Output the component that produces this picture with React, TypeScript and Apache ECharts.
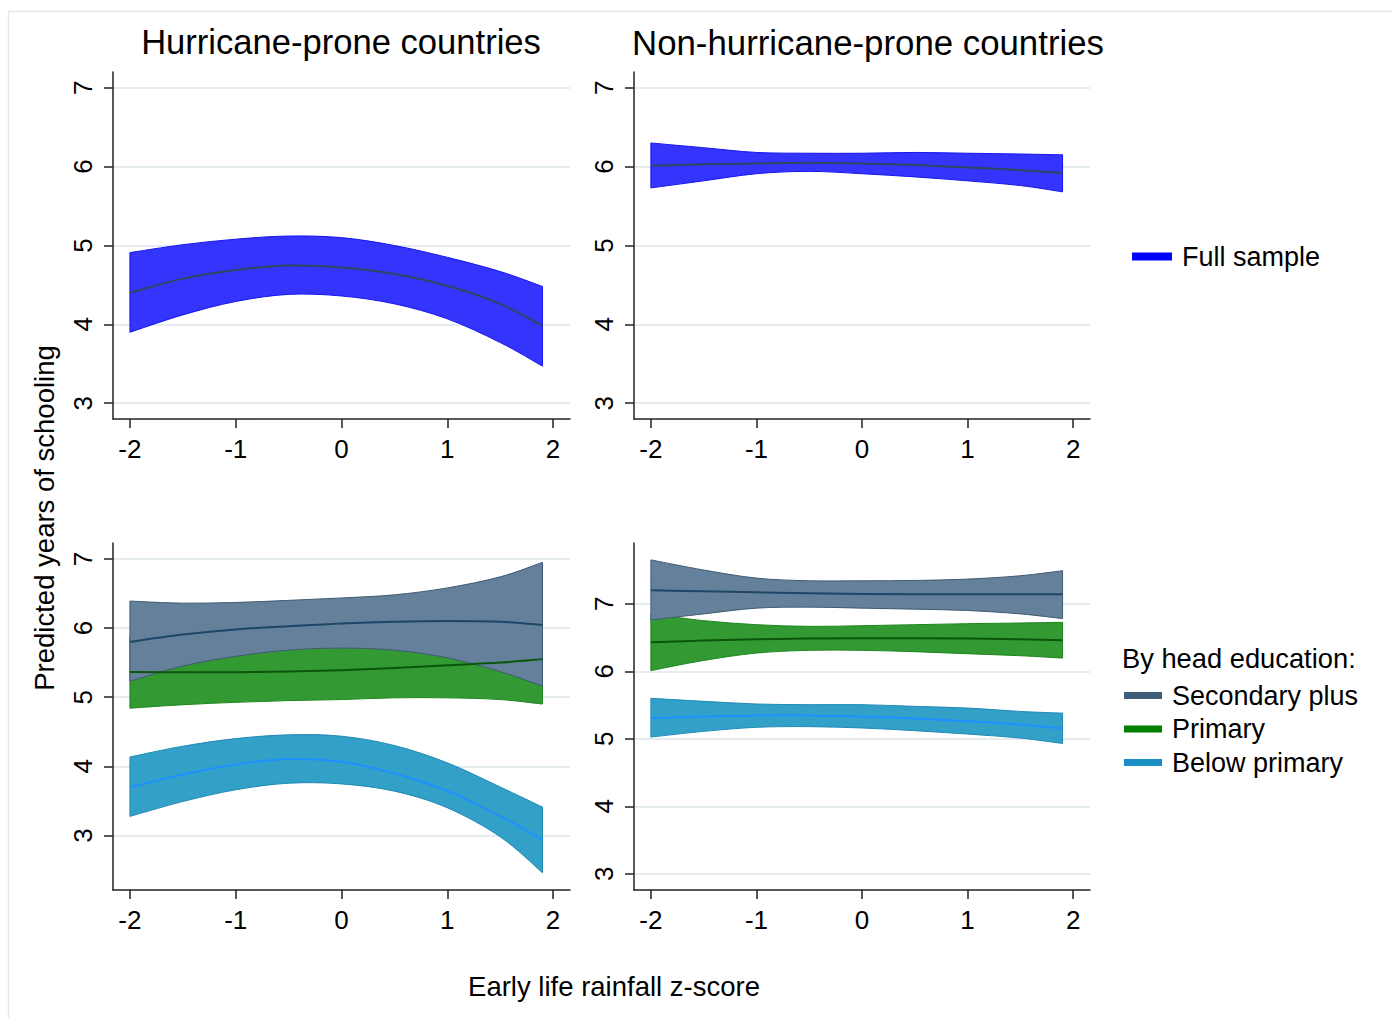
import { useEffect, useRef } from "react";
import * as echarts from "echarts";

const FONT = "'Liberation Sans', Arial, Helvetica, sans-serif";

// ---------------- DATA ----------------
const xs = [-2, -1.5, -1, -0.5, 0, 0.5, 1, 1.5, 1.9];
const xTicks = [-2, -1, 0, 1, 2];
const yTicks = [3, 4, 5, 6, 7];

const groupNames = ["Full sample", "Secondary plus", "Primary", "Below primary"];
const panelTitles = ["Hurricane-prone countries", "Non-hurricane-prone countries"];
const xAxisTitle = "Early life rainfall z-score";
const yAxisTitle = "Predicted years of schooling";
const legendHeading = "By head education:";

// Hurricane-prone, full sample
const hurFullLo = [3.9, 4.12, 4.29, 4.38, 4.36, 4.26, 4.07, 3.77, 3.47];
const hurFullFit = [4.4, 4.58, 4.69, 4.745, 4.72, 4.64, 4.49, 4.26, 3.98];
const hurFullHi = [4.91, 5.01, 5.08, 5.12, 5.1, 5.0, 4.85, 4.67, 4.48];

// Non-hurricane-prone, full sample
const nonFullLo = [5.73, 5.82, 5.91, 5.94, 5.91, 5.87, 5.82, 5.76, 5.68];
const nonFullFit = [6.01, 6.03, 6.04, 6.05, 6.04, 6.02, 5.99, 5.955, 5.92];
const nonFullHi = [6.3, 6.24, 6.18, 6.17, 6.17, 6.18, 6.17, 6.16, 6.15];

// Hurricane-prone, by head education
const hurSecLo = [5.23, 5.45, 5.59, 5.68, 5.71, 5.68, 5.57, 5.37, 5.16];
const hurSecFit = [5.8, 5.905, 5.98, 6.025, 6.065, 6.09, 6.1, 6.09, 6.045];
const hurSecHi = [6.39, 6.36, 6.37, 6.4, 6.435, 6.48, 6.58, 6.74, 6.95];

const hurPriLo = [4.84, 4.89, 4.925, 4.95, 4.965, 4.99, 4.99, 4.965, 4.9];
const hurPriFit = [5.365, 5.36, 5.36, 5.37, 5.39, 5.42, 5.46, 5.5, 5.55];
const hurPriHi = [5.89, 5.83, 5.8, 5.79, 5.82, 5.85, 5.93, 6.04, 6.2];

const hurBelLo = [3.275, 3.49, 3.66, 3.755, 3.745, 3.64, 3.4, 2.98, 2.46];
const hurBelFit = [3.695, 3.88, 4.025, 4.105, 4.065, 3.895, 3.645, 3.28, 2.935];
const hurBelHi = [4.135, 4.29, 4.4, 4.455, 4.435, 4.3, 4.05, 3.7, 3.41];

// Non-hurricane-prone, by head education
const nonSecLo = [6.76, 6.85, 6.935, 6.95, 6.935, 6.92, 6.9, 6.85, 6.78];
const nonSecFit = [7.2, 7.185, 7.17, 7.155, 7.145, 7.14, 7.14, 7.14, 7.14];
const nonSecHi = [7.65, 7.5, 7.38, 7.34, 7.34, 7.345, 7.365, 7.415, 7.49];

const nonPriLo = [6.01, 6.16, 6.27, 6.31, 6.31, 6.29, 6.26, 6.23, 6.195];
const nonPriFit = [6.43, 6.455, 6.475, 6.485, 6.49, 6.49, 6.485, 6.475, 6.46];
const nonPriHi = [6.85, 6.75, 6.69, 6.665, 6.675, 6.69, 6.705, 6.715, 6.725];

const nonBelLo = [5.025, 5.11, 5.17, 5.18, 5.16, 5.12, 5.07, 5.01, 4.93];
const nonBelFit = [5.305, 5.33, 5.345, 5.345, 5.33, 5.3, 5.26, 5.21, 5.15];
const nonBelHi = [5.6, 5.555, 5.515, 5.505, 5.505, 5.48, 5.455, 5.405, 5.38];

// ---------------- STYLES / LAYOUT ----------------
const STY: Record<string, { fill: string; edge: string; line: string; legend: string }> = {
  "Full sample": { fill: "#3434fd", edge: "#1515f0", line: "#2c4760", legend: "#0000ff" },
  "Secondary plus": { fill: "#64809a", edge: "#3f5b74", line: "#1f4567", legend: "#3e5d78" },
  Primary: { fill: "#339933", edge: "#1d861d", line: "#0b560b", legend: "#008000" },
  "Below primary": { fill: "#33a0c8", edge: "#1f8ab5", line: "#1e90ff", legend: "#1a8fc4" },
};

type Band = { name: string; lo: number[]; fit: number[]; hi: number[] };

const panels: { grid: any; yMin: number; yMax: number; bands: Band[] }[] = [
  {
    grid: { left: 113, top: 72, width: 457, height: 347 },
    yMin: 2.8,
    yMax: 7.2,
    bands: [{ name: groupNames[0], lo: hurFullLo, fit: hurFullFit, hi: hurFullHi }],
  },
  {
    grid: { left: 634, top: 72, width: 456, height: 347 },
    yMin: 2.8,
    yMax: 7.2,
    bands: [{ name: groupNames[0], lo: nonFullLo, fit: nonFullFit, hi: nonFullHi }],
  },
  {
    grid: { left: 113, top: 543, width: 457, height: 347 },
    yMin: 2.21,
    yMax: 7.23,
    bands: [
      { name: groupNames[2], lo: hurPriLo, fit: hurPriFit, hi: hurPriHi },
      { name: groupNames[1], lo: hurSecLo, fit: hurSecFit, hi: hurSecHi },
      { name: groupNames[3], lo: hurBelLo, fit: hurBelFit, hi: hurBelHi },
    ],
  },
  {
    grid: { left: 634, top: 543, width: 456, height: 347 },
    yMin: 2.76,
    yMax: 7.9,
    bands: [
      { name: groupNames[2], lo: nonPriLo, fit: nonPriFit, hi: nonPriHi },
      { name: groupNames[1], lo: nonSecLo, fit: nonSecFit, hi: nonSecHi },
      { name: groupNames[3], lo: nonBelLo, fit: nonBelFit, hi: nonBelHi },
    ],
  },
];

const AXIS_COLOR = "#222";

// Catmull-Rom spline through pixel points -> cubic bezier path segments
function splineSegments(pts: number[][]): string {
  let d = "";
  for (let i = 0; i < pts.length - 1; i++) {
    const p0 = pts[Math.max(0, i - 1)];
    const p1 = pts[i];
    const p2 = pts[i + 1];
    const p3 = pts[Math.min(pts.length - 1, i + 2)];
    const c1x = p1[0] + (p2[0] - p0[0]) / 6;
    const c1y = p1[1] + (p2[1] - p0[1]) / 6;
    const c2x = p2[0] - (p3[0] - p1[0]) / 6;
    const c2y = p2[1] - (p3[1] - p1[1]) / 6;
    d += ` C ${c1x} ${c1y} ${c2x} ${c2y} ${p2[0]} ${p2[1]}`;
  }
  return d;
}

function bandRenderer(fill: string, edge: string) {
  return (params: any, api: any) => {
    if (params.dataIndexInside !== 0) return null;
    const n = params.dataInsideLength;
    const up: number[][] = [];
    const dn: number[][] = [];
    for (let i = 0; i < n; i++) {
      const x = api.value(0, i);
      up.push(api.coord([x, api.value(2, i)]));
      dn.push(api.coord([x, api.value(1, i)]));
    }
    dn.reverse();
    const d =
      `M ${up[0][0]} ${up[0][1]}` +
      splineSegments(up) +
      ` L ${dn[0][0]} ${dn[0][1]}` +
      splineSegments(dn) +
      " Z";
    return {
      type: "path",
      shape: { pathData: d },
      style: { fill, stroke: edge, lineWidth: 1 },
      silent: true,
    };
  };
}

function lineRenderer(color: string) {
  return (params: any, api: any) => {
    if (params.dataIndexInside !== 0) return null;
    const n = params.dataInsideLength;
    const pts: number[][] = [];
    for (let i = 0; i < n; i++) pts.push(api.coord([api.value(0, i), api.value(1, i)]));
    const d = `M ${pts[0][0]} ${pts[0][1]}` + splineSegments(pts);
    return {
      type: "path",
      shape: { pathData: d },
      style: { fill: "none", stroke: color, lineWidth: 2 },
      silent: true,
    };
  };
}

function buildOption() {
  const grid = panels.map((p) => p.grid);
  const xAxis = panels.map((_, i) => ({
    type: "value",
    gridIndex: i,
    min: -2.16,
    max: 2.16,
    axisLine: { show: true, onZero: false, lineStyle: { color: AXIS_COLOR, width: 1.5 } },
    axisTick: { show: true, length: 9, customValues: xTicks, lineStyle: { color: AXIS_COLOR, width: 1.5 } },
    axisLabel: { customValues: xTicks, margin: 17, fontSize: 26, color: "#000", fontFamily: FONT },
    splitLine: { show: false },
  }));
  const yAxis = panels.map((p, i) => ({
    type: "value",
    gridIndex: i,
    min: p.yMin,
    max: p.yMax,
    axisLine: { show: true, onZero: false, lineStyle: { color: AXIS_COLOR, width: 1.5 } },
    axisTick: { show: true, length: 9, customValues: yTicks, lineStyle: { color: AXIS_COLOR, width: 1.5 } },
    axisLabel: { customValues: yTicks, rotate: 90, margin: 17, fontSize: 26, color: "#000", fontFamily: FONT },
    splitLine: { show: true, lineStyle: { color: "#e4ecef", width: 2 } },
  }));

  const series: any[] = [];
  panels.forEach((p, pi) => {
    p.bands.forEach((b) => {
      const s = STY[b.name];
      series.push({
        type: "custom",
        name: `${b.name} CI`,
        xAxisIndex: pi,
        yAxisIndex: pi,
        data: xs.map((x, i) => [x, b.lo[i], b.hi[i]]),
        encode: { x: 0, y: [1, 2] },
        renderItem: bandRenderer(s.fill, s.edge),
        silent: true,
      });
    });
  });
  panels.forEach((p, pi) => {
    const order = p.bands.length > 1 ? [1, 0, 2] : [0];
    order.forEach((k) => {
      const b = p.bands[k];
      const s = STY[b.name];
      series.push({
        type: "custom",
        name: b.name,
        xAxisIndex: pi,
        yAxisIndex: pi,
        data: xs.map((x, i) => [x, b.fit[i]]),
        encode: { x: 0, y: 1 },
        renderItem: lineRenderer(s.line),
        silent: true,
        itemStyle: { color: s.legend },
      });
    });
  });

  const legendText = { fontSize: 27, color: "#000", fontFamily: FONT, padding: [0, 0, 0, 5] };
  const legend = [
    {
      data: [{ name: groupNames[0], itemStyle: { color: STY[groupNames[0]].legend } }],
      left: 1132,
      top: 243,
      padding: 0,
      icon: "rect",
      itemWidth: 40,
      itemHeight: 8,
      selectedMode: false,
      textStyle: legendText,
    },
    {
      data: [groupNames[1], groupNames[2], groupNames[3]].map((n) => ({
        name: n,
        itemStyle: { color: STY[n].legend },
      })),
      orient: "vertical",
      left: 1124,
      top: 682,
      padding: 0,
      itemGap: 6.5,
      icon: "rect",
      itemWidth: 38,
      itemHeight: 7,
      selectedMode: false,
      textStyle: legendText,
    },
  ];

  const txt = (text: string, x: number, y: number, size: number, align = "center", rotation = 0) => ({
    type: "text",
    x,
    y,
    rotation,
    silent: true,
    style: {
      text,
      fill: "#000",
      fontSize: size,
      fontFamily: FONT,
      textAlign: align,
      textVerticalAlign: "middle",
    },
  });

  const graphic = [
    {
      type: "rect",
      silent: true,
      shape: { x: 8.5, y: 11.5, width: 1392, height: 1015 },
      style: { fill: "none", stroke: "#e3e9eb", lineWidth: 1.5 },
    },
    txt(panelTitles[0], 341, 42, 34.6),
    txt(panelTitles[1], 868, 42, 34.8),
    txt(xAxisTitle, 614, 986, 27.5),
    txt(yAxisTitle, 44, 518, 27.5, "center", Math.PI / 2),
    txt(legendHeading, 1122, 658, 27.3, "left"),
  ];

  return {
    animation: false,
    backgroundColor: "#ffffff",
    grid,
    xAxis,
    yAxis,
    series,
    legend,
    graphic,
  };
}

export default function App() {
  const ref = useRef<HTMLDivElement>(null);
  useEffect(() => {
    if (!ref.current) return;
    const chart = echarts.init(ref.current, undefined, { renderer: "svg" });
    chart.setOption(buildOption() as any);
    return () => chart.dispose();
  }, []);
  return (
    <div
      ref={ref}
      style={{ position: "absolute", left: 0, top: 0, width: 1392, height: 1018, background: "#fff" }}
    />
  );
}
